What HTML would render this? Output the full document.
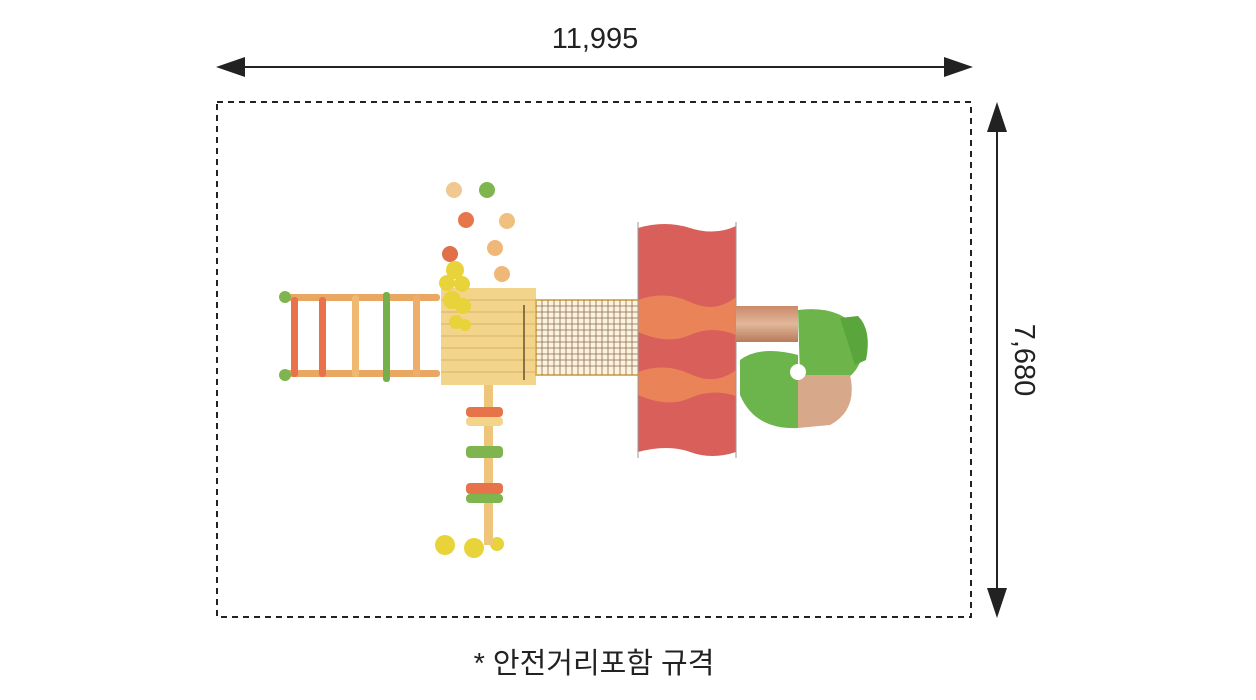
<!DOCTYPE html>
<html><head><meta charset="utf-8"><style>
body{margin:0;background:#fff;width:1256px;height:700px;overflow:hidden}
svg{display:block}
text{font-family:"Liberation Sans","Noto Sans CJK KR",sans-serif;fill:#222}
</style></head><body>
<svg width="1256" height="700" viewBox="0 0 1256 700">
<defs>
<linearGradient id="g1" x1="0" x2="0" y1="0" y2="1"><stop offset="0" stop-color="#c98a6a"/><stop offset=".5" stop-color="#e2b79a"/><stop offset="1" stop-color="#b87a5c"/></linearGradient>
</defs>
<line x1="235" y1="67" x2="955" y2="67" stroke="#222" stroke-width="2"/>
<polygon points="216,67 245,57 245,77" fill="#222"/>
<polygon points="973,67 944,57 944,77" fill="#222"/>
<text x="595" y="48" font-size="29" text-anchor="middle">11,995</text>
<rect x="217" y="102" width="754" height="515" fill="none" stroke="#222" stroke-width="2" stroke-dasharray="6,5"/>
<line x1="997" y1="120" x2="997" y2="600" stroke="#222" stroke-width="2"/>
<polygon points="997,102 987,132 1007,132" fill="#222"/>
<polygon points="997,618 987,588 1007,588" fill="#222"/>
<text x="1015" y="360" font-size="29" text-anchor="middle" transform="rotate(90 1015 360)">7,680</text>
<text x="594" y="673" font-size="29" text-anchor="middle">* 안전거리포함 규격</text>

<g>
<circle cx="454" cy="190" r="8" fill="#f0c890"/><circle cx="487" cy="190" r="8" fill="#7fb54e"/>
<circle cx="466" cy="220" r="8" fill="#e7774a"/><circle cx="507" cy="221" r="8" fill="#f0c080"/>
<circle cx="450" cy="254" r="8" fill="#e0704a"/><circle cx="495" cy="248" r="8" fill="#f0b878"/>
<circle cx="502" cy="274" r="8" fill="#f0b878"/>
</g>
<rect x="282" y="294" width="158" height="7" rx="3" fill="#e8a864"/>
<rect x="282" y="370" width="158" height="7" rx="3" fill="#e8a864"/>
<circle cx="285" cy="297" r="6" fill="#7fb54e"/><circle cx="285" cy="375" r="6" fill="#7fb54e"/>
<rect x="291" y="297" width="7" height="80" rx="3" fill="#e8734a"/>
<rect x="319" y="297" width="7" height="80" rx="3" fill="#e8734a"/>
<rect x="352" y="295" width="7" height="82" rx="3" fill="#f0b870"/>
<rect x="383" y="292" width="7" height="90" rx="3" fill="#76b04a"/>
<rect x="413" y="295" width="7" height="82" rx="3" fill="#eeae6a"/>
<rect x="441" y="288" width="95" height="97" fill="#f2d48a"/>
<g stroke="#d8b46a" stroke-width="1">
<line x1="441" y1="300" x2="536" y2="300"/><line x1="441" y1="312" x2="536" y2="312"/><line x1="441" y1="324" x2="536" y2="324"/><line x1="441" y1="336" x2="536" y2="336"/><line x1="441" y1="348" x2="536" y2="348"/><line x1="441" y1="360" x2="536" y2="360"/><line x1="441" y1="372" x2="536" y2="372"/>
</g>
<line x1="524" y1="305" x2="524" y2="380" stroke="#6a5030" stroke-width="1.5"/>
<g fill="#e8d43a">
<circle cx="455" cy="270" r="9"/><circle cx="447" cy="283" r="8"/><circle cx="462" cy="284" r="8"/>
<circle cx="452" cy="300" r="9"/><circle cx="463" cy="306" r="8"/>
<circle cx="456" cy="322" r="7"/><circle cx="465" cy="325" r="6"/>
<circle cx="445" cy="545" r="10"/><circle cx="474" cy="548" r="10"/><circle cx="497" cy="544" r="7"/>
</g>
<rect x="536" y="300" width="103" height="75" fill="#fbf3e0" stroke="#d8b060" stroke-width="2"/>
<g stroke="#8a6a4a" stroke-width="0.8">
<path d="M542 300V375M548 300V375M554 300V375M560 300V375M566 300V375M572 300V375M578 300V375M584 300V375M590 300V375M596 300V375M602 300V375M608 300V375M614 300V375M620 300V375M626 300V375M632 300V375"/>
<path d="M536 306H639M536 312H639M536 318H639M536 324H639M536 330H639M536 336H639M536 342H639M536 348H639M536 354H639M536 360H639M536 366H639"/>
</g>
<rect x="484" y="385" width="9" height="160" fill="#eec57a"/>
<rect x="466" y="407" width="37" height="10" rx="4" fill="#e6734a"/>
<rect x="466" y="417" width="37" height="9" rx="4" fill="#f2d48a"/>
<rect x="466" y="446" width="37" height="12" rx="4" fill="#7fb54e"/>
<rect x="466" y="483" width="37" height="11" rx="4" fill="#e6734a"/>
<rect x="466" y="494" width="37" height="9" rx="4" fill="#7fb54e"/>
<path d="M638 228 Q665 220 690 228 T736 226 V452 Q712 460 690 452 T638 452 Z" fill="#d9605a"/>
<path d="M638 300 Q665 290 690 302 T736 297 V335 Q712 325 690 335 T638 332 Z" fill="#ea8458"/>
<path d="M638 372 Q665 362 690 374 T736 370 V396 Q712 388 690 398 T638 395 Z" fill="#ea8458"/>
<line x1="638" y1="222" x2="638" y2="458" stroke="#999" stroke-width="1"/>
<line x1="736" y1="222" x2="736" y2="458" stroke="#999" stroke-width="1"/>
<rect x="736" y="306" width="62" height="36" fill="url(#g1)"/>
<path d="M798 310 Q840 305 858 330 Q870 360 848 378 L800 378 Z" fill="#6db54a"/>
<path d="M840 318 L858 316 Q872 330 866 360 L855 365 Z" fill="#5aa53c"/>
<path d="M740 360 Q760 345 798 355 L798 428 Q755 430 740 395 Z" fill="#6cb54c"/>
<path d="M798 375 L850 375 Q858 410 830 425 L798 428 Z" fill="#d8a88a"/>
<circle cx="798" cy="372" r="8" fill="#fff"/>
</svg>
</body></html>
